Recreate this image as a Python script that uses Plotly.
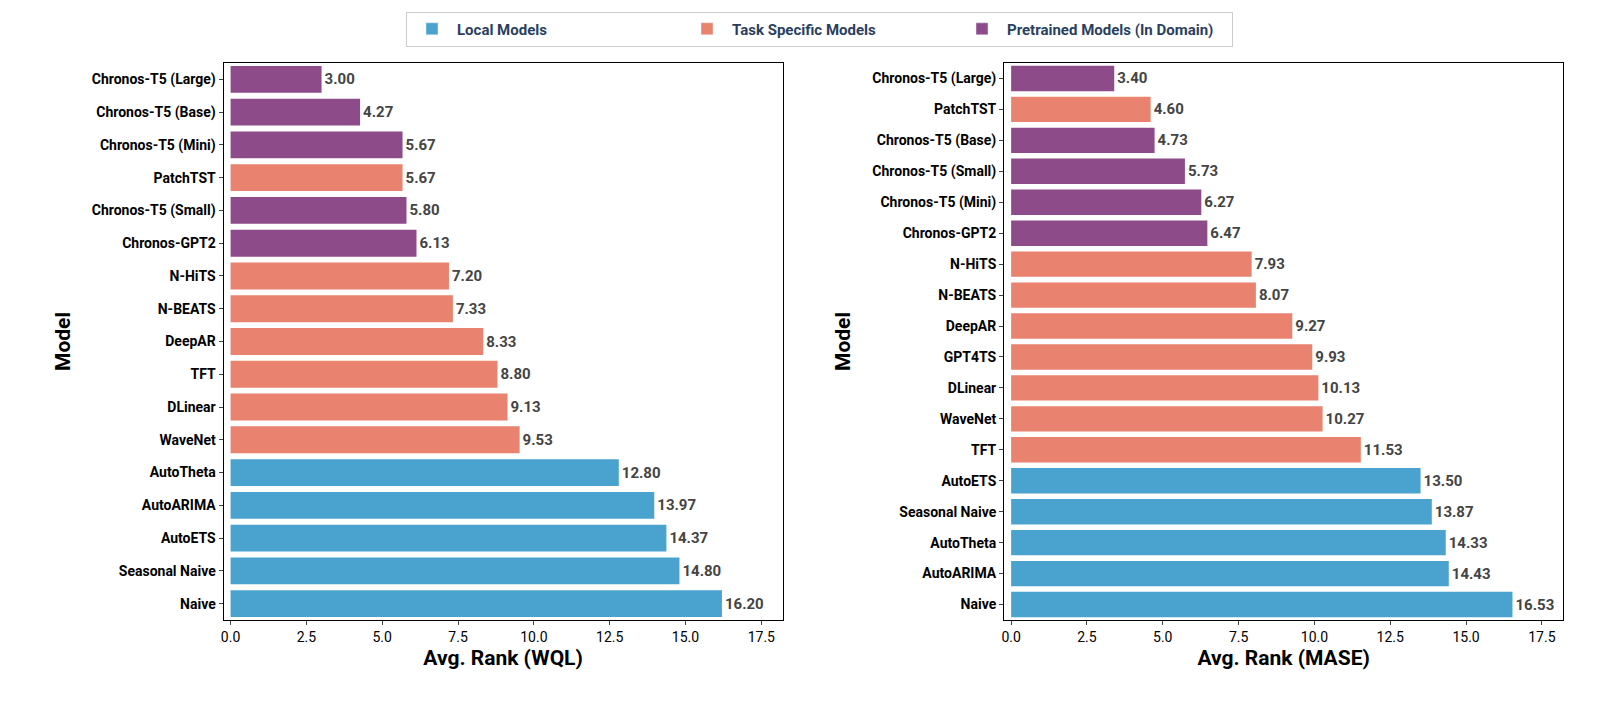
import plotly.graph_objects as go

BLUE = "#4aa3cf"; SALMON = "#e9826e"; PURPLE = "#8e4b8a"
GROUPS = {"Local Models": BLUE, "Task Specific Models": SALMON, "Pretrained Models (In Domain)": PURPLE}

wql_models = ["Chronos-T5 (Large)", "Chronos-T5 (Base)", "Chronos-T5 (Mini)", "PatchTST", "Chronos-T5 (Small)",
              "Chronos-GPT2", "N-HiTS", "N-BEATS", "DeepAR", "TFT", "DLinear", "WaveNet", "AutoTheta",
              "AutoARIMA", "AutoETS", "Seasonal Naive", "Naive"]
wql_values = [3.00, 4.27, 5.67, 5.67, 5.80, 6.13, 7.20, 7.33, 8.33, 8.80, 9.13, 9.53, 12.80, 13.97, 14.37, 14.80, 16.20]
wql_groups = ["P", "P", "P", "T", "P", "P", "T", "T", "T", "T", "T", "T", "L", "L", "L", "L", "L"]

mase_models = ["Chronos-T5 (Large)", "PatchTST", "Chronos-T5 (Base)", "Chronos-T5 (Small)", "Chronos-T5 (Mini)",
               "Chronos-GPT2", "N-HiTS", "N-BEATS", "DeepAR", "GPT4TS", "DLinear", "WaveNet", "TFT",
               "AutoETS", "Seasonal Naive", "AutoTheta", "AutoARIMA", "Naive"]
mase_values = [3.40, 4.60, 4.73, 5.73, 6.27, 6.47, 7.93, 8.07, 9.27, 9.93, 10.13, 10.27, 11.53, 13.50, 13.87, 14.33, 14.43, 16.53]
mase_groups = ["P", "T", "P", "P", "P", "P", "T", "T", "T", "T", "T", "T", "T", "L", "L", "L", "L", "L"]

x_ticks = [0, 2.5, 5, 7.5, 10, 12.5, 15, 17.5]
cmap = {"L": BLUE, "T": SALMON, "P": PURPLE}

fig = go.Figure()
for i, (m, v, g) in enumerate([(wql_models, wql_values, wql_groups), (mase_models, mase_values, mase_groups)]):
    ax = "" if i == 0 else "2"
    fig.add_trace(go.Bar(y=m, x=v, orientation="h", marker_color=[cmap[k] for k in g],
                         marker_line_width=0, width=0.82,
                         text=[f"{x:.2f}" for x in v], textposition="outside", cliponaxis=False,
                         textfont=dict(size=15, color="#444444", family="Roboto", weight="bold"),
                         xaxis="x" + ax, yaxis="y" + ax, showlegend=False, hoverinfo="skip"))
for name, c in GROUPS.items():
    fig.add_trace(go.Bar(y=[None], x=[None], orientation="h", name=name, marker_color=c, showlegend=True))

font_tick = dict(size=14, color="black", family="Roboto", weight="bold")
title_font = dict(size=21, color="black", family="Roboto", weight="bold")
common_x = dict(range=[-0.23, 18.2], tickvals=x_ticks, ticktext=[f"{t:.1f}" for t in x_ticks],
                showline=True, mirror=True, linecolor="black", linewidth=1.2, ticks="outside",
                ticklen=4, tickfont=dict(size=14, color="black", family="Roboto"), showgrid=False,
                zeroline=False, title_font=title_font, title_standoff=6)
common_y = dict(autorange="reversed", showline=True, mirror=True, linecolor="black", linewidth=1.2,
                ticks="outside", ticklen=4, tickfont=font_tick, showgrid=False, title_text="Model",
                title_font=title_font, range=None)

fig.update_layout(
    width=1620, height=711, margin=dict(l=0, r=0, t=0, b=0),
    plot_bgcolor="white", paper_bgcolor="white", barmode="overlay",
    xaxis=dict(domain=[213/1620, 773/1620], anchor="y", title_text="Avg. Rank (WQL)", **common_x),
    xaxis2=dict(domain=[995/1620, 1555/1620], anchor="y2", title_text="Avg. Rank (MASE)", **common_x),
    yaxis=dict(domain=[1-612/711, 1-55/711], anchor="x", categoryorder="array", categoryarray=wql_models,
               **{k: v for k, v in common_y.items() if k != "range"}),
    yaxis2=dict(domain=[1-612/711, 1-55/711], anchor="x2", categoryorder="array", categoryarray=mase_models,
                **{k: v for k, v in common_y.items() if k != "range"}),
    legend=dict(orientation="h", x=0.5, xanchor="center", y=0.995, yanchor="top",
                bordercolor="#cccccc", borderwidth=1, font=dict(size=15, family="Roboto", weight="bold"),
                itemwidth=40, entrywidth=220, entrywidthmode="pixels"),
)
fig.write_html("out.html")
